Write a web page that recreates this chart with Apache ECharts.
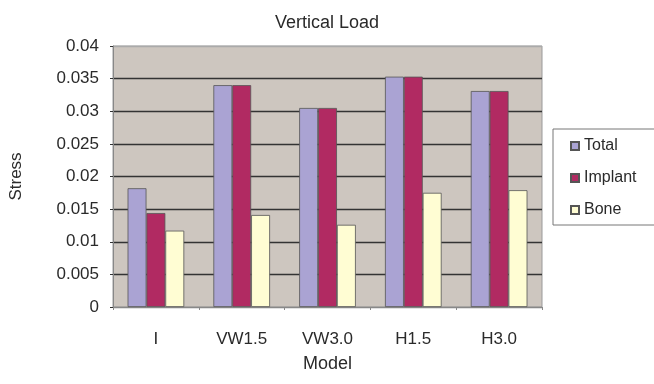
<!DOCTYPE html>
<html><head><meta charset="utf-8">
<script src="https://cdn.jsdelivr.net/npm/echarts@6/dist/echarts.min.js"></script>
<style>html,body{margin:0;padding:0;background:#fff}#c{width:654px;height:384px}</style>
</head><body><div id="c"></div>
<script>
const categories = ['I', 'VW1.5', 'VW3.0', 'H1.5', 'H3.0'];
const seriesNames = ['Total', 'Implant', 'Bone'];
const total = [0.0182, 0.0340, 0.0305, 0.0353, 0.0331];
const implant = [0.0144, 0.0340, 0.0305, 0.0353, 0.0331];
const bone = [0.0117, 0.0141, 0.0126, 0.0175, 0.0179];
const colors = ['#aaa3d3', '#b12a62', '#fffdd3'];

const font = 'Liberation Sans, Arial, sans-serif';
const chart = echarts.init(document.getElementById('c'), null, {renderer: 'canvas'});
const dataSets = [total, implant, bone];
chart.setOption({
  animation: false,
  title: {text: 'Vertical Load', left: 'center', top: 9,
    textStyle: {fontFamily: font, fontSize: 18, fontWeight: 'normal', color: '#2a2a2a'}},
  grid: {left: 111, right: 112, top: 46, bottom: 77, show: true,
    backgroundColor: '#cdc6bf', borderColor: '#9a9a9a', borderWidth: 1},
  legend: {orient: 'vertical', left: 553, top: 129, data: seriesNames,
    icon: 'rect', itemWidth: 8, itemHeight: 8, itemGap: 14,
    padding: [8, 30, 6, 17], borderColor: '#777', borderWidth: 1,
    textStyle: {fontFamily: font, fontSize: 16, lineHeight: 18, color: '#2a2a2a'}},
  xAxis: {type: 'category', data: categories, name: 'Model',
    nameLocation: 'middle', nameGap: 48,
    nameTextStyle: {fontFamily: font, fontSize: 18, color: '#2a2a2a'},
    axisLine: {lineStyle: {color: '#888'}},
    axisTick: {show: true, length: 3, lineStyle: {color: '#888'}},
    axisLabel: {fontFamily: font, fontSize: 17, color: '#2a2a2a', margin: 24}},
  yAxis: {type: 'value', min: 0, max: 0.04, interval: 0.005, name: 'Stress',
    nameLocation: 'middle', nameGap: 88, nameRotate: 90,
    nameTextStyle: {fontFamily: font, fontSize: 17, color: '#2a2a2a'},
    axisLine: {show: true, lineStyle: {color: '#888'}},
    axisTick: {show: true, length: 3, lineStyle: {color: '#333'}},
    axisLabel: {fontFamily: font, fontSize: 17, color: '#2a2a2a', margin: 14},
    splitLine: {lineStyle: {color: ['#888', '#333', '#333', '#333', '#333', '#333', '#333', '#333', '#aaa'], width: 1.3}}},
  series: seriesNames.map((n, i) => ({
    name: n, type: 'bar', data: dataSets[i], barGap: '0%', barCategoryGap: '34%',
    itemStyle: {color: colors[i], borderColor: '#555', borderWidth: 0.8}
  }))
});
</script></body></html>
